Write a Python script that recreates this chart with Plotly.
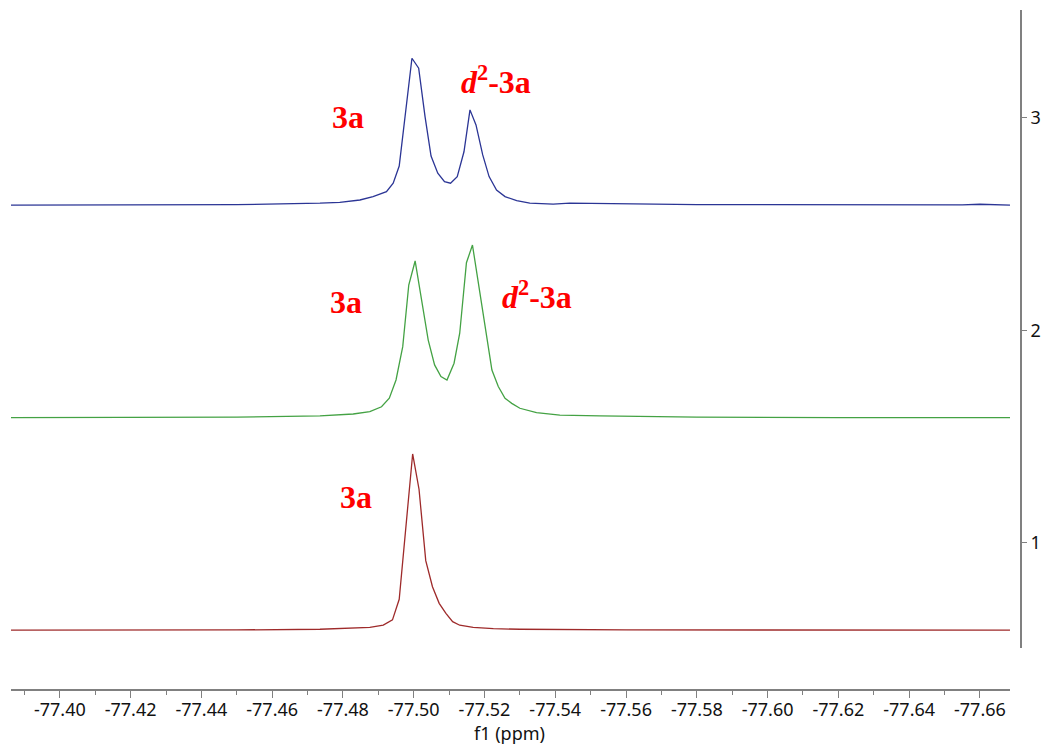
import plotly.graph_objects as go

# ---- data (ppm, intensity) ----
ppm_red = [-77.3862, -77.42, -77.45, -77.4735, -77.4876, -77.4914, -77.4940, -77.4959,
           -77.4978, -77.4997, -77.5015, -77.5034, -77.5053, -77.5072, -77.5091, -77.5110,
           -77.5130, -77.5168, -77.5225, -77.5300, -77.56, -77.60, -77.64, -77.6685]
int_red = [0.590, 0.590, 0.591, 0.594, 0.603, 0.614, 0.638, 0.735,
           1.077, 1.419, 1.253, 0.917, 0.794, 0.716, 0.669, 0.630,
           0.613, 0.603, 0.597, 0.594, 0.591, 0.590, 0.590, 0.590]

ppm_green = [-77.3862, -77.42, -77.45, -77.4735, -77.4829, -77.4876, -77.4909, -77.4931,
             -77.4950, -77.4969, -77.4986, -77.5004, -77.5022, -77.5041, -77.5059, -77.5077,
             -77.5094, -77.5114, -77.5130, -77.5149, -77.5166, -77.5184, -77.5202, -77.5221,
             -77.5239, -77.5258, -77.5277, -77.5300, -77.5347, -77.5413, -77.5526, -77.58,
             -77.62, -77.6685]
int_green = [1.590, 1.591, 1.592, 1.598, 1.607, 1.618, 1.641, 1.681,
             1.767, 1.924, 2.214, 2.327, 2.144, 1.955, 1.838, 1.783,
             1.767, 1.846, 1.987, 2.319, 2.402, 2.206, 2.002, 1.814,
             1.736, 1.681, 1.657, 1.634, 1.613, 1.602, 1.598, 1.592,
             1.590, 1.590]

ppm_blue = [-77.3862, -77.42, -77.45, -77.4735, -77.4791, -77.4848, -77.4885, -77.4923,
            -77.4942, -77.4959, -77.4977, -77.4995, -77.5014, -77.5032, -77.5049, -77.5068,
            -77.5087, -77.5104, -77.5123, -77.5142, -77.5159, -77.5176, -77.5195, -77.5213,
            -77.5234, -77.5258, -77.5291, -77.5328, -77.5394, -77.5441, -77.58, -77.62,
            -77.655, -77.660, -77.6685]
int_blue = [2.590, 2.591, 2.592, 2.599, 2.603, 2.614, 2.630, 2.653,
            2.693, 2.774, 3.038, 3.281, 3.234, 3.006, 2.821, 2.740,
            2.700, 2.693, 2.724, 2.841, 3.038, 2.967, 2.826, 2.724,
            2.661, 2.630, 2.611, 2.599, 2.595, 2.599, 2.592, 2.591,
            2.591, 2.594, 2.590]

x_tick_vals = [-77.40, -77.42, -77.44, -77.46, -77.48, -77.50, -77.52,
               -77.54, -77.56, -77.58, -77.60, -77.62, -77.64, -77.66]
x_tick_labels = ["-77.40", "-77.42", "-77.44", "-77.46", "-77.48", "-77.50", "-77.52",
                 "-77.54", "-77.56", "-77.58", "-77.60", "-77.62", "-77.64", "-77.66"]
y_tick_vals = [1, 2, 3]
y_tick_labels = ["1", "2", "3"]
x_title = "f1 (ppm)"

D2 = "<i>d</i><sup>2</sup>-3a"
label_text = ["3a", D2, "3a", D2, "3a"]
label_ppm = [-77.4814, -77.5233, -77.4808, -77.5349, -77.4837]
label_int = [3.006, 3.178, 2.132, 2.166, 1.218]

AXIS_GREY = "#808080"
TICK_FONT = dict(family="Noto Sans", size=18, color="#111111")

fig = go.Figure()
fig.add_trace(go.Scatter(x=ppm_red, y=int_red, mode="lines",
                         line=dict(color="#9e2a2a", width=1.3), showlegend=False))
fig.add_trace(go.Scatter(x=ppm_green, y=int_green, mode="lines",
                         line=dict(color="#44a244", width=1.3), showlegend=False))
fig.add_trace(go.Scatter(x=ppm_blue, y=int_blue, mode="lines",
                         line=dict(color="#2b3595", width=1.3), showlegend=False))

for t, xv, yv in zip(label_text, label_ppm, label_int):
    fig.add_annotation(x=xv, y=yv, xref="x", yref="y", text="<b>" + t + "</b>",
                       showarrow=False, xanchor="center", yanchor="middle",
                       font=dict(family="Liberation Serif", size=32, color="#ff0000"))

fig.add_annotation(x=0.494, y=-0.0625, xref="paper", yref="paper", text=x_title,
                   showarrow=False, xanchor="center", yanchor="middle", font=TICK_FONT)

fig.update_layout(
    width=1045, height=749,
    margin=dict(l=11, r=24, t=10, b=59, autoexpand=False),
    paper_bgcolor="white", plot_bgcolor="white",
    xaxis=dict(
        domain=[0, 0.98911], anchor="free", position=0,
        range=[-77.3862, -77.6685],
        tickmode="array", tickvals=x_tick_vals, ticktext=x_tick_labels,
        ticks="outside", ticklen=7, tickwidth=1.3, tickcolor=AXIS_GREY,
        ticklabelstandoff=-3,
        minor=dict(dtick=0.01, tick0=-77.40, ticks="outside", ticklen=4,
                   tickwidth=1.3, tickcolor=AXIS_GREY, showgrid=False),
        showline=True, linecolor=AXIS_GREY, linewidth=1.5,
        showgrid=False, zeroline=False,
        tickfont=TICK_FONT,
    ),
    yaxis=dict(
        domain=[0.0618, 1], side="right", anchor="free", position=1,
        range=[0.506, 3.508],
        tickmode="array", tickvals=y_tick_vals, ticktext=y_tick_labels,
        ticks="outside", ticklen=5, tickwidth=1.3, tickcolor=AXIS_GREY,
        showline=True, linecolor=AXIS_GREY, linewidth=2,
        showgrid=False, zeroline=False,
        tickfont=TICK_FONT,
    ),
)

fig.write_html("out.html",
               config={"displayModeBar": False},
               post_script="document.body.style.margin='0';"
                           "document.body.style.overflow='hidden';")
